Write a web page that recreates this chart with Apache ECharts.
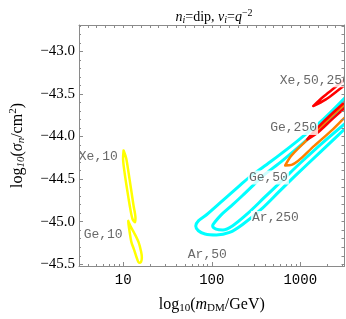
<!DOCTYPE html>
<html><head><meta charset="utf-8">
<script src="https://cdn.jsdelivr.net/npm/echarts@6/dist/echarts.min.js"></script>
<style>html,body{margin:0;padding:0;background:#fff}#c{width:346px;height:319px}</style>
</head><body><div id="c"></div>
<script>
// ---- axes (log10 units) ----
const xMin = 0.5, xMax = 3.5;
const yMin = -45.52, yMax = -42.69;
const massTicks = [10, 100, 1000];
const massMinorTicks = [4,5,6,7,8,9,20,30,40,50,60,70,80,90,200,300,400,500,600,700,800,900,2000,3000];
const sigmaTicks = [-45.5, -45.0, -44.5, -44.0, -43.5, -43.0];

// ---- contours: [log10(m/GeV), log10(sigma/cm^2)] ----
const xe10 = [[1.004,-44.163],[1.033,-44.254],[1.060,-44.424],[1.088,-44.616],[1.116,-44.809],[1.138,-44.956],[1.132,-45.007],[1.104,-44.967],[1.073,-44.809],[1.043,-44.616],[1.015,-44.424],[0.998,-44.254],[1.004,-44.163]];
const ge10 = [[1.057,-44.993],[1.090,-45.069],[1.121,-45.126],[1.173,-45.239],[1.202,-45.352],[1.210,-45.420],[1.201,-45.471],[1.178,-45.482],[1.151,-45.420],[1.123,-45.330],[1.092,-45.239],[1.073,-45.126],[1.060,-45.035],[1.057,-44.993]];
const ar50 = [[3.900,-43.518],[3.534,-43.880],[3.235,-44.174],[2.939,-44.465],[2.755,-44.653],[2.570,-44.843],[2.348,-45.032],[2.201,-45.126],[2.052,-45.156],[1.924,-45.145],[1.849,-45.106],[1.819,-45.050],[1.849,-44.990],[1.941,-44.918],[2.126,-44.749],[2.312,-44.579],[2.440,-44.465],[2.659,-44.299],[2.902,-44.106],[3.235,-43.823],[3.568,-43.484],[3.900,-43.178]];
const ar250 = [[3.623,-43.744],[3.290,-44.039],[3.013,-44.299],[2.814,-44.497],[2.592,-44.718],[2.404,-44.905],[2.237,-45.046],[2.126,-45.097],[2.049,-45.086],[2.010,-45.046],[2.038,-45.001],[2.104,-44.922],[2.215,-44.820],[2.348,-44.692],[2.481,-44.559],[2.570,-44.469],[2.792,-44.288],[3.013,-44.095],[3.290,-43.835],[3.623,-43.518]];
const geOrange = [[3.789,-43.506],[3.531,-43.747],[3.346,-43.937],[3.161,-44.106],[2.902,-44.333],[2.830,-44.339],[2.902,-44.220],[3.161,-43.956],[3.346,-43.767],[3.531,-43.597],[3.789,-43.348]];
const redLow = [[3.645,-43.529],[3.368,-43.789],[3.191,-43.959],[3.080,-44.033],[3.180,-43.914],[3.346,-43.744],[3.623,-43.484]];
const redTop = [[3.645,-43.280],[3.435,-43.450],[3.290,-43.563],[3.146,-43.642],[3.257,-43.535],[3.401,-43.416],[3.623,-43.223]];

// ---- contour labels ----
const labelNames = ['Xe,10','Ge,10','Ar,50','Ar,250','Ge,50','Ge,250','Xe,50,250'];
const labelX = [0.718, 0.773, 1.950, 2.720, 2.640, 2.925, 3.165];
const labelY = [-44.240, -45.150, -45.380, -44.955, -44.480, -43.900, -43.340];

// tick helpers
const yMinor = [];
for (let k = -455; k <= -427; k++) if (k % 5 !== 0) yMinor.push(k / 10);
const y01 = [];
for (let k = -455; k <= -427; k++) y01.push(k / 10);
const x01 = [];
for (let k = 5; k <= 35; k++) x01.push(k / 10);

const frameColor = '#8a8a8a';
const serif = 'Liberation Serif';
const mono = 'Liberation Mono';

function ax(pos, ticks, len, extra) {
  const isY = (pos === 'left' || pos === 'right');
  return Object.assign({
    type: 'value', min: isY ? yMin : xMin, max: isY ? yMax : xMax,
    position: pos, z: 10,
    axisLine: {show: false, onZero: false, lineStyle: {color: frameColor, width: 1}},
    axisTick: {show: true, inside: true, length: len, customValues: ticks, lineStyle: {color: frameColor, width: 1}},
    axisLabel: {show: false},
    splitLine: {show: false}
  }, extra || {});
}

const lineBase = (data, color, w) => ({
  type: 'line', data, showSymbol: false, symbol: 'none', smooth: 0.3, silent: true,
  xAxisIndex: 0, yAxisIndex: 0, z: 2,
  lineStyle: {color, width: w, cap: 'round', join: 'round'}
});

const chart = echarts.init(document.getElementById('c'), null, {renderer: 'canvas'});
chart.setOption({
  animation: false,
  backgroundColor: '#fff',
  title: {
    text: '{i|n}{sb|i}{r|=dip, }{i|ν}{sb|i}{r|=}{i|q}{sp|−2}',
    left: 209, top: 3, textAlign: 'center',
    textStyle: {
      fontWeight: 'normal',
      rich: {
        i: {fontFamily: serif, fontSize: 14, fontStyle: 'italic', fontWeight: 'normal', color: '#000'},
        r: {fontFamily: serif, fontSize: 14, fontWeight: 'normal', color: '#000'},
        sb: {fontFamily: serif, fontSize: 10, fontStyle: 'italic', fontWeight: 'normal', color: '#000', padding: [7, 0, 0, 0]},
        sp: {fontFamily: serif, fontSize: 10, fontWeight: 'normal', color: '#000', padding: [0, 0, 8, 0]}
      }
    }
  },
  graphic: [
    {type: 'rect', right: 0, top: 0, z: 6, silent: true, shape: {width: 1.5, height: 319}, style: {fill: '#fff'}}
  ],
  grid: {left: 73, right: 1.5, top: 25, bottom: 44.5, containLabel: false},
  xAxis: [
    ax('bottom', massTicks.map(Math.log10), 4, {
      axisLine: {show: true, onZero: false, lineStyle: {color: frameColor, width: 1}},
      axisLabel: {show: true, customValues: massTicks.map(Math.log10),
        formatter: v => String(Math.round(Math.pow(10, v))),
        fontFamily: mono, fontSize: 14, color: '#000', margin: 7},
      name: '{r|log}{sb|10}{r|(}{i|m}{sb|DM}{r|/GeV)}',
      nameLocation: 'middle', nameGap: 29,
      nameTextStyle: {rich: {
        r: {fontFamily: serif, fontSize: 16, color: '#000'},
        i: {fontFamily: serif, fontSize: 16, fontStyle: 'italic', color: '#000'},
        sb: {fontFamily: serif, fontSize: 11, color: '#000', padding: [8, 0, 0, 0]}
      }}
    }),
    ax('bottom', massMinorTicks.map(Math.log10), 2),
    ax('top', x01, 3, {axisLine: {show: true, onZero: false, lineStyle: {color: frameColor, width: 1}}})
  ],
  yAxis: [
    ax('left', sigmaTicks, 4, {
      axisLine: {show: true, onZero: false, lineStyle: {color: frameColor, width: 1}},
      axisLabel: {show: true, customValues: sigmaTicks,
        formatter: v => (v < 0 ? '−' : '') + Math.abs(v).toFixed(1),
        fontFamily: serif, fontSize: 15, color: '#000', margin: 4},
      name: '{r|log}{sb|10}{r|(}{i|σ}{sb|n}{r|/cm}{sp|2}{r|)}',
      nameLocation: 'middle', nameRotate: 90, nameGap: 52,
      nameTextStyle: {rich: {
        r: {fontFamily: serif, fontSize: 16, color: '#000'},
        i: {fontFamily: serif, fontSize: 16, fontStyle: 'italic', color: '#000'},
        sb: {fontFamily: serif, fontSize: 11, fontStyle: 'italic', color: '#000', padding: [8, 0, 0, 0]},
        sp: {fontFamily: serif, fontSize: 11, color: '#000', padding: [0, 0, 8, 0]}
      }}
    }),
    ax('left', yMinor, 2),
    ax('right', y01, 3, {axisLine: {show: true, onZero: false, lineStyle: {color: frameColor, width: 1}}})
  ],
  series: [
    lineBase(ar50, '#00ffff', 3),
    lineBase(ar250, '#00ffff', 3),
    lineBase(geOrange, '#ff8000', 2.5),
    lineBase(redLow, '#ff0000', 2.5),
    lineBase(redTop, '#ff0000', 2.5),
    lineBase(xe10, '#ffff00', 2.5),
    lineBase(ge10, '#ffff00', 2.5),
    {
      type: 'scatter', xAxisIndex: 0, yAxisIndex: 0, z: 5, symbolSize: 0, silent: true,
      data: labelNames.map((n, i) => ({name: n, value: [labelX[i], labelY[i]]})),
      label: {show: true, position: 'inside', formatter: p => p.name,
        fontFamily: mono, fontSize: 13, color: '#444', backgroundColor: '#fff', padding: [1, 1, 0, 1]}
    }
  ]
});
</script></body></html>
